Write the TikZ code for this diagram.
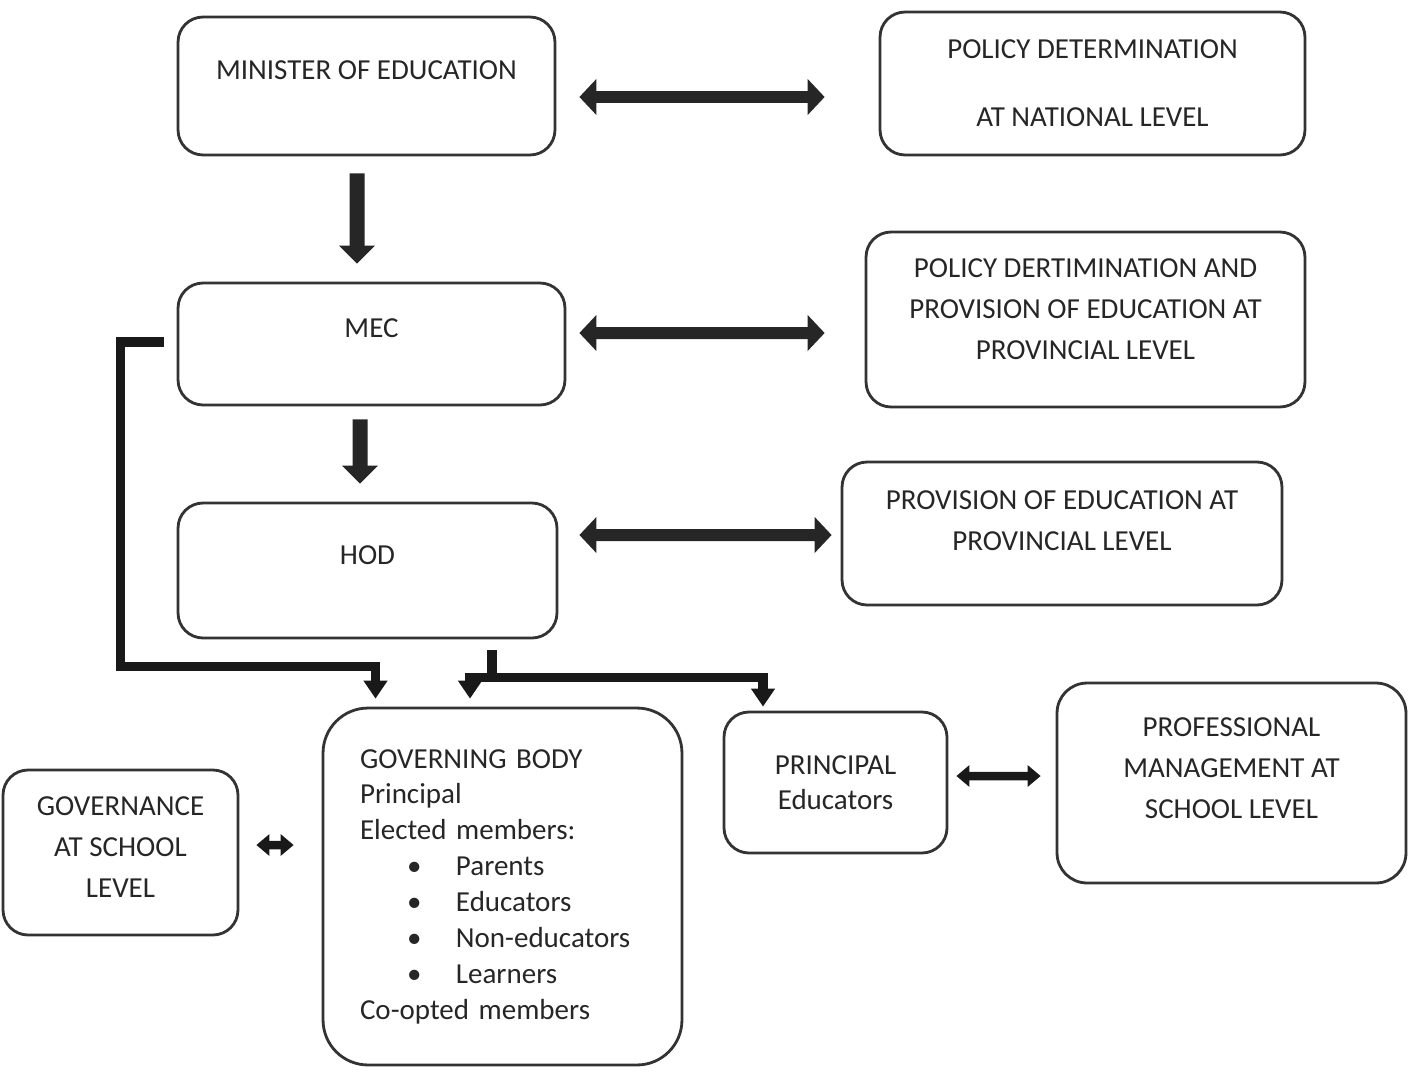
\documentclass[tikz,border=0pt]{standalone}
\usepackage{fontspec}
\setmainfont{Carlito}
\usetikzlibrary{arrows.meta}

\newcommand{\itemrow}[1]{\makebox[1.92cm][l]{\hspace*{0.94cm}\textbullet}#1}

\begin{document}
\begin{tikzpicture}[x=0.02cm,y=-0.02cm,thick,
    box node/.style={draw=black!80,line width=1.6pt,rounded corners=0.5cm,align=center,
        text=black!85,font=\fontsize{16.5}{23.3}\selectfont},
    big arrow/.style={draw=black!85,line width=0.24cm,
        {Triangle[width=0.7cm,length=0.34cm]}-{Triangle[width=0.7cm,length=0.34cm]}},
    small arrow/.style={draw=black!90,line width=0.17cm,
        {Triangle[width=0.42cm,length=0.26cm]}-{Triangle[width=0.42cm,length=0.26cm]}},
    down arrow/.style={draw=black!85,line width=0.3cm,-{Triangle[width=0.7cm,length=0.36cm]}},
    link/.style={draw=black!90,line width=0.19cm},
    link tip/.style={-{Triangle[width=0.46cm,length=0.36cm]}}]
    \useasboundingbox (0,0) rectangle (1416,1072);

    % left column
    \node[box node, minimum width=7.54cm, minimum height=2.76cm, text depth=0.64cm] at (366.5,86) (min) {MINISTER OF EDUCATION};
    \node[box node, minimum width=7.74cm, minimum height=2.44cm, text depth=0.64cm] at (371.5,344) (mec) {MEC};
    \node[box node, minimum width=7.58cm, minimum height=2.7cm, text depth=0.6cm] at (367.5,570.5) (hod) {HOD};

    % right column
    \node[box node, minimum width=8.5cm, minimum height=2.86cm, font=\fontsize{16.5}{38.7}\selectfont] at (1092.5,83.5) (nat) {POLICY DETERMINATION\\AT NATIONAL LEVEL};
    \node[box node, minimum width=8.78cm, minimum height=3.5cm, text depth=0.4cm] at (1085.5,319.5) (ppol) {POLICY DERTIMINATION AND\\PROVISION OF EDUCATION AT\\PROVINCIAL LEVEL};
    \node[box node, minimum width=8.8cm, minimum height=2.86cm, text depth=0.52cm] at (1062,533.5) (prov) {PROVISION OF EDUCATION AT\\PROVINCIAL LEVEL};

    % school level
    \node[box node, rounded corners=0.9cm, minimum width=7.18cm, minimum height=7.14cm, align=left,
        inner xsep=0.74cm, text width=5.7cm, font=\fontsize{16.5}{20.4}\selectfont] at (502.5,886.5) (gb)
        {GOVERNING BODY\\Principal\\Elected members:\\\itemrow{Parents}\\\itemrow{Educators}\\\itemrow{Non-educators}\\\itemrow{Learners}\\Co-opted members};
    \node[box node, minimum width=4.46cm, minimum height=2.82cm, font=\fontsize{16.5}{19.9}\selectfont] at (835.5,782.5) (prin) {PRINCIPAL\\Educators};
    \node[box node, rounded corners=0.6cm, minimum width=6.98cm, minimum height=4cm, text depth=0.6cm] at (1231.5,783) (prof) {PROFESSIONAL\\MANAGEMENT AT\\SCHOOL LEVEL};
    \node[box node, minimum width=4.7cm, minimum height=3.3cm, text depth=0.2cm] at (120.5,852.5) (gov) {GOVERNANCE\\AT SCHOOL\\LEVEL};

    % two-way arrows
    \draw[big arrow] ([xshift=0.46cm,yshift=-0.22cm]min.east) -- ([xshift=-1.08cm,yshift=-0.27cm]nat.west);
    \draw[big arrow] ([xshift=0.26cm,yshift=0.22cm]mec.east) -- ([xshift=-0.8cm,yshift=-0.27cm]ppol.west);
    \draw[big arrow] ([xshift=0.42cm,yshift=0.71cm]hod.east) -- ([xshift=-0.18cm,yshift=-0.03cm]prov.west);
    \draw[small arrow] ([xshift=0.34cm,yshift=0.15cm]gov.east) -- ([xshift=-0.56cm,yshift=0.83cm]gb.west);
    \draw[small arrow] ([xshift=0.16cm,yshift=0.13cm]prin.east) -- ([xshift=-0.3cm,yshift=0.14cm]prof.west);

    % chain of command
    \draw[down arrow] ([xshift=-0.19cm,yshift=-0.34cm]min.south) -- ([xshift=-0.29cm,yshift=0.36cm]mec.north);
    \draw[down arrow] ([xshift=-0.23cm,yshift=-0.26cm]mec.south) -- ([xshift=-0.15cm,yshift=0.36cm]hod.north);

    % MEC to governing body
    \draw[link, link tip] ([xshift=-0.26cm,yshift=0.04cm]mec.west) -- ++(-0.86cm,0)
        |- ([xshift=-2.54cm,yshift=0.8cm]gb.north) -- ([xshift=-2.54cm,yshift=0.16cm]gb.north);

    % HOD to governing body and principal
    \coordinate (split) at ([xshift=2.49cm,yshift=-0.76cm]hod.south);
    \draw[link] ([xshift=2.49cm,yshift=-0.22cm]hod.south) -- (split);
    \draw[link, link tip] (split) -| ([xshift=-0.65cm,yshift=0.16cm]gb.north);
    \draw[link, link tip] (split) -| ([xshift=-1.45cm,yshift=0.08cm]prin.north);
\end{tikzpicture}
\end{document}
